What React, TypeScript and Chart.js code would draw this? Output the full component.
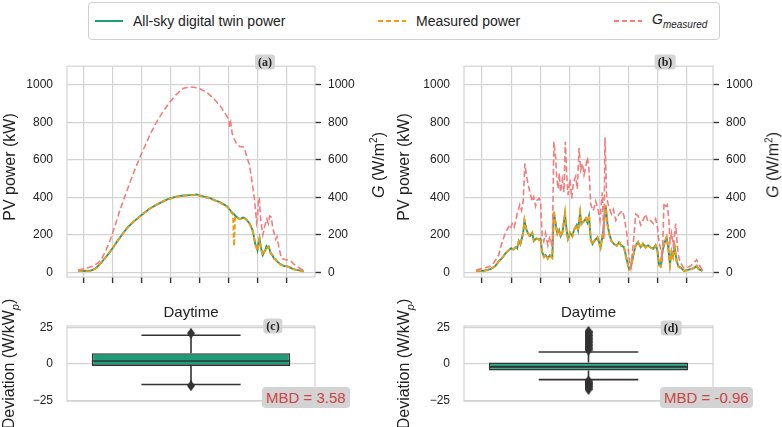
import React, { useEffect, useRef } from 'react';
import { Chart, registerables } from 'chart.js';
Chart.register(...registerables);

const FONT = '"Liberation Sans", Arial, Helvetica, sans-serif';
const GREEN = '#1b9e77';
const ORANGE = '#f39c12';
const PINK = '#f47c7c';
const GRID = '#d3d3d3';
const TEXT = '#222222';
const DARK = '#333333';

// ---------- shared ticks ----------
const hourTicks = [6, 8, 10, 12, 14, 16, 18, 20];
const powerTicks = [0, 200, 400, 600, 800, 1000];
const devTicks = [-25, 0, 25];
const boxCategories = ['Daytime'];

// ---------- panel (a) ----------
const hoursA = [5.6, 6.0, 6.4, 6.65, 6.87, 7.1, 7.45, 7.75, 8.02, 8.35, 8.71, 9.05, 9.4, 9.75, 10.09, 10.5, 11.0, 11.5, 11.93, 12.4, 12.85, 13.3, 13.66, 13.8, 14.0, 14.3, 14.69, 15.03, 15.38, 15.72, 15.9, 16.07, 16.2, 16.3, 16.38, 16.45, 16.55, 16.65, 16.76, 16.9, 17.0, 17.1, 17.25, 17.44, 17.55, 17.67, 17.78, 17.85, 17.93, 18.0, 18.08, 18.14, 18.2, 18.3, 18.37, 18.45, 18.55, 18.62, 18.7, 18.78, 18.83, 18.9, 19.0, 19.14, 19.25, 19.35, 19.52, 19.7, 19.86, 20.0, 20.2, 20.4, 20.55, 20.8, 21.0, 21.2];
const twinA = [8, 7, 8, 14, 25, 45, 75, 105, 134, 172, 210, 242, 268, 292, 313, 338, 360, 380, 394, 404, 410, 412, 414, 416, 410, 404, 397, 385, 375, 360, 352, 335, 322, 316, 310, 303, 296, 290, 285, 288, 292, 290, 280, 262, 245, 222, 180, 150, 135, 118, 160, 182, 150, 110, 92, 108, 120, 140, 132, 138, 125, 105, 95, 75, 70, 58, 48, 38, 33, 33, 28, 20, 16, 12, 9, 5];
const measuredA = [8, 6, 7, 13, 24, 44, 74, 106, 133, 170, 208, 243, 270, 290, 312, 337, 361, 381, 392, 403, 408, 411, 413, 412, 409, 402, 395, 384, 373, 358, 350, 333, 318, 312, 140, 298, 292, 288, 283, 287, 290, 288, 279, 260, 243, 220, 176, 148, 130, 115, 155, 178, 148, 108, 90, 105, 118, 136, 130, 135, 122, 103, 93, 73, 68, 56, 47, 37, 32, 32, 27, 19, 15, 11, 8, 5];
const hoursGA = [5.6, 6.1, 6.6, 7.0, 7.25, 7.5, 7.8, 8.0, 8.25, 8.5, 8.8, 9.2, 9.6, 10.1, 10.6, 11.0, 11.5, 11.9, 12.3, 12.6, 12.9, 13.3, 13.7, 14.0, 14.5, 15.0, 15.5, 15.9, 16.0, 16.07, 16.15, 16.25, 16.4, 16.6, 16.8, 17.0, 17.1, 17.25, 17.44, 17.55, 17.67, 17.79, 17.88, 17.94, 18.0, 18.08, 18.13, 18.2, 18.3, 18.37, 18.45, 18.55, 18.65, 18.75, 18.85, 18.95, 19.05, 19.15, 19.26, 19.35, 19.5, 19.64, 19.73, 19.9, 20.1, 20.31, 20.5, 20.77, 21.0, 21.24];
const gA = [12, 20, 33, 52, 78, 115, 170, 215, 275, 335, 400, 485, 565, 655, 740, 800, 862, 905, 942, 965, 982, 990, 986, 980, 960, 925, 880, 830, 820, 775, 800, 740, 710, 680, 670, 670, 660, 620, 575, 520, 460, 390, 320, 265, 290, 400, 395, 300, 240, 200, 225, 260, 285, 260, 300, 295, 240, 210, 176, 190, 126, 80, 72, 68, 66, 60, 45, 30, 18, 8];

// ---------- panel (b) ----------
const hoursB = [5.61, 6.1, 6.57, 6.91, 7.14, 7.37, 7.6, 7.83, 7.99, 8.13, 8.29, 8.4, 8.51, 8.62, 8.81, 8.9, 9.04, 9.13, 9.27, 9.43, 9.54, 9.72, 9.89, 10.0, 10.11, 10.23, 10.34, 10.5, 10.64, 10.8, 10.91, 11.03, 11.14, 11.26, 11.37, 11.5, 11.67, 11.78, 11.87, 12.01, 12.17, 12.29, 12.47, 12.56, 12.7, 12.79, 12.93, 13.09, 13.2, 13.31, 13.43, 13.55, 13.7, 13.89, 14.1, 14.3, 14.45, 14.57, 14.68, 14.84, 15.02, 15.2, 15.36, 15.52, 15.7, 15.89, 16.05, 16.16, 16.34, 16.5, 16.66, 16.84, 17.0, 17.18, 17.34, 17.52, 17.7, 17.86, 17.98, 18.09, 18.2, 18.32, 18.48, 18.61, 18.72, 18.84, 18.95, 19.05, 19.16, 19.3, 19.41, 19.57, 19.8, 20.02, 20.25, 20.48, 20.66, 20.82, 21.05];
const twinB = [8, 8, 17, 34, 59, 76, 101, 118, 129, 122, 134, 128, 168, 150, 210, 274, 227, 210, 193, 210, 168, 180, 176, 178, 109, 84, 92, 76, 90, 79, 320, 260, 210, 227, 193, 215, 310, 227, 180, 210, 193, 227, 252, 225, 315, 260, 269, 286, 265, 300, 176, 151, 170, 185, 134, 227, 355, 260, 210, 168, 151, 143, 160, 143, 134, 67, 17, 22, 92, 143, 160, 134, 151, 134, 143, 134, 126, 143, 118, 42, 34, 109, 160, 185, 134, 42, 109, 84, 134, 59, 34, 25, 8, 12, 17, 22, 34, 17, 8];
const measuredB = [8, 7, 16, 33, 57, 78, 99, 120, 127, 124, 132, 130, 165, 152, 205, 280, 225, 212, 190, 212, 165, 182, 172, 180, 105, 80, 95, 72, 93, 76, 330, 255, 205, 230, 190, 218, 320, 222, 178, 213, 190, 230, 255, 220, 322, 255, 272, 290, 262, 305, 170, 148, 173, 188, 130, 232, 360, 255, 207, 165, 153, 140, 163, 140, 132, 62, 14, 20, 95, 146, 163, 130, 154, 131, 146, 131, 123, 146, 115, 38, 30, 112, 165, 190, 130, 38, 112, 80, 138, 55, 30, 22, 7, 11, 16, 25, 36, 15, 6];
const hoursGB = [5.61, 6.11, 6.5, 6.8, 7.14, 7.37, 7.6, 7.83, 7.95, 8.06, 8.2, 8.4, 8.58, 8.7, 8.81, 8.93, 9.04, 9.13, 9.27, 9.43, 9.54, 9.66, 9.77, 9.89, 10.0, 10.11, 10.22, 10.34, 10.5, 10.64, 10.8, 10.91, 11.03, 11.1, 11.2, 11.28, 11.37, 11.49, 11.6, 11.69, 11.78, 11.87, 12.01, 12.13, 12.24, 12.4, 12.51, 12.63, 12.74, 12.86, 12.97, 13.09, 13.2, 13.31, 13.43, 13.6, 13.77, 13.95, 14.06, 14.22, 14.33, 14.4, 14.52, 14.63, 14.84, 14.98, 15.14, 15.36, 15.59, 15.7, 15.89, 16.05, 16.16, 16.34, 16.5, 16.66, 16.84, 17.0, 17.18, 17.34, 17.52, 17.7, 17.86, 17.98, 18.09, 18.2, 18.32, 18.43, 18.55, 18.66, 18.77, 18.84, 18.95, 19.07, 19.23, 19.34, 19.45, 19.57, 19.8, 20.02, 20.25, 20.48, 20.66, 20.82, 21.05];
const gB = [12, 22, 30, 50, 92, 160, 210, 244, 230, 260, 240, 311, 361, 330, 378, 580, 512, 479, 428, 378, 403, 353, 385, 395, 380, 193, 165, 210, 143, 193, 134, 697, 613, 512, 445, 529, 428, 496, 428, 697, 529, 412, 496, 395, 479, 512, 445, 664, 546, 580, 520, 563, 613, 546, 361, 328, 380, 327, 276, 427, 176, 720, 395, 361, 311, 336, 277, 311, 328, 300, 210, 76, 25, 160, 311, 302, 252, 277, 311, 269, 277, 260, 286, 244, 160, 126, 76, 370, 353, 361, 277, 160, 210, 143, 260, 143, 76, 50, 22, 25, 34, 50, 67, 42, 12];

// ---------- box plots (c) and (d) ----------
// [lower whisker, Q1, median, Q3, upper whisker]
const statsC = [-14.2, -1.4, 2.0, 7.3, 19.6];
const outliersC = [21.0, -15.0];
const statsD = [-10.8, -4.5, -2.1, 0.9, 8.1];
const outliersD = [9.5, 10.5, 11.5, 12.5, 13.5, 14.5, 15.5, 16.5, 17.5, 18.5, 19.5, 20.5, 21.5, 22.3, -11.8, -12.6, -13.4, -14.2, -15.0, -15.8, -16.6, -17.5];
const mbdC = 3.58;
const mbdD = -0.96;

const xy = (xs: number[], ys: number[]) => xs.map((x, i) => ({ x, y: ys[i] }));
const fixTicks = (values: number[]) => (s: any) => { s.ticks = values.map((v) => ({ value: v })); };
const plainFmt = (v: any) => String(v);
const minusFmt = (v: any) => (Number(v) < 0 ? '\u2212' + Math.abs(Number(v)) : String(v));

const framePlugin = {
  id: 'frame',
  beforeDatasetsDraw(chart: any) {
    const { ctx, chartArea: a } = chart;
    ctx.save();
    ctx.strokeStyle = GRID;
    ctx.lineWidth = 1.2;
    ctx.strokeRect(a.left, a.top, a.right - a.left, a.bottom - a.top);
    ctx.restore();
  },
};

function powerChart(canvas: HTMLCanvasElement, p: any) {
  return new Chart(canvas, {
    type: 'line',
    data: {
      datasets: [
        { label: 'G measured', data: xy(p.hoursG, p.g), yAxisID: 'y1', borderColor: PINK, borderWidth: 1.6, borderDash: [6, 3], pointRadius: 0, fill: false, tension: 0 },
        { label: 'Measured power', data: xy(p.hours, p.measured), yAxisID: 'y', borderColor: ORANGE, borderWidth: 1.9, borderDash: [5, 2.5], pointRadius: 0, fill: false, tension: 0 },
        { label: 'All-sky digital twin power', data: xy(p.hours, p.twin), yAxisID: 'y', borderColor: GREEN, borderWidth: 1.9, pointRadius: 0, fill: false, tension: 0 },
      ],
    },
    options: {
      responsive: false,
      animation: false,
      events: [],
      layout: { padding: { top: 8, left: 0, right: 0, bottom: 0 } },
      plugins: { legend: { display: false }, tooltip: { enabled: false } },
      scales: {
        x: {
          type: 'linear', min: p.xmin, max: p.xmax,
          afterBuildTicks: fixTicks(hourTicks),
          afterFit: (s: any) => { s.height = p.bottomH; },
          grid: { color: GRID, lineWidth: 1.2, drawTicks: true, tickLength: 6, tickColor: DARK, tickWidth: 1.4 },
          border: { display: false },
          ticks: { display: false },
        },
        y: {
          type: 'linear', position: 'left', min: -25, max: 1100,
          afterBuildTicks: fixTicks(powerTicks),
          afterFit: (s: any) => { s.width = p.leftW; },
          grid: { color: GRID, lineWidth: 1.2, drawTicks: false },
          border: { display: false },
          ticks: { padding: 14, color: TEXT, font: { size: 12, family: FONT }, callback: plainFmt },
        },
        y1: {
          type: 'linear', position: 'right', min: -25, max: 1100,
          afterBuildTicks: fixTicks(powerTicks),
          afterFit: (s: any) => { s.width = p.rightW; },
          grid: { drawOnChartArea: false, drawTicks: true, tickLength: 6, tickColor: DARK, tickWidth: 1.4 },
          border: { display: false },
          ticks: { padding: 7, color: TEXT, font: { size: 12, family: FONT }, callback: plainFmt },
        },
      },
    },
    plugins: [framePlugin],
  } as any);
}

function makeDiamond() {
  const c = document.createElement('canvas');
  c.width = 8; c.height = 11;
  const g = c.getContext('2d')!;
  g.fillStyle = DARK;
  g.beginPath();
  g.moveTo(4, 0); g.lineTo(8, 5.5); g.lineTo(4, 11); g.lineTo(0, 5.5); g.closePath();
  g.fill();
  return c;
}

function boxChart(canvas: HTMLCanvasElement, p: any, diamond: HTMLCanvasElement) {
  const [wLo, q1, med, q3, wHi] = p.stats;
  const boxPlugin = {
    id: 'boxstats',
    beforeDatasetsDraw(chart: any) {
      const bar = chart.getDatasetMeta(1).data[0];
      const ys = chart.scales.y;
      const cx = bar.x;
      const half = bar.width / 4;
      const ctx = chart.ctx;
      ctx.save();
      ctx.strokeStyle = DARK;
      ctx.lineWidth = 1.6;
      ctx.beginPath();
      ctx.moveTo(cx, ys.getPixelForValue(q3)); ctx.lineTo(cx, ys.getPixelForValue(wHi));
      ctx.moveTo(cx, ys.getPixelForValue(q1)); ctx.lineTo(cx, ys.getPixelForValue(wLo));
      ctx.moveTo(cx - half, ys.getPixelForValue(wHi)); ctx.lineTo(cx + half, ys.getPixelForValue(wHi));
      ctx.moveTo(cx - half, ys.getPixelForValue(wLo)); ctx.lineTo(cx + half, ys.getPixelForValue(wLo));
      ctx.stroke();
      ctx.restore();
    },
    afterDatasetsDraw(chart: any) {
      const bar = chart.getDatasetMeta(1).data[0];
      const ys = chart.scales.y;
      const ctx = chart.ctx;
      const y = ys.getPixelForValue(med);
      ctx.save();
      ctx.strokeStyle = DARK;
      ctx.lineWidth = 1.6;
      ctx.beginPath();
      ctx.moveTo(bar.x - bar.width / 2, y); ctx.lineTo(bar.x + bar.width / 2, y);
      ctx.stroke();
      ctx.restore();
    },
  };
  return new Chart(canvas, {
    type: 'bar',
    data: {
      labels: boxCategories,
      datasets: [
        { type: 'line', data: p.outliers.map((v: number) => ({ x: boxCategories[0], y: v })), showLine: false, pointStyle: diamond, pointRadius: 5, borderColor: DARK, backgroundColor: DARK },
        { type: 'bar', data: [[q1, q3]], backgroundColor: GREEN, borderColor: DARK, borderWidth: 1.6, borderSkipped: false, barPercentage: 0.8, categoryPercentage: 1.0 },
      ],
    },
    options: {
      responsive: false,
      animation: false,
      events: [],
      layout: { padding: { top: 8, left: 0, right: p.rightPad, bottom: 26 } },
      plugins: {
        legend: { display: false },
        tooltip: { enabled: false },
        title: { display: true, fullSize: false, text: boxCategories[0], color: TEXT, font: { size: 15, family: FONT, weight: 'normal' }, padding: { top: 0, bottom: 4 } },
      },
      scales: {
        x: { type: 'category', display: false },
        y: {
          type: 'linear', min: -25.5, max: 26,
          afterBuildTicks: fixTicks(devTicks),
          afterFit: (s: any) => { s.width = p.leftW; },
          grid: { color: GRID, lineWidth: 1.2, drawTicks: false },
          border: { display: false },
          ticks: { padding: 14, color: TEXT, font: { size: 12, family: FONT }, callback: minusFmt },
        },
      },
    },
    plugins: [framePlugin, boxPlugin],
  } as any);
}

const abs = (l: number, t: number): React.CSSProperties => ({ position: 'absolute', left: l, top: t });

function RotTitle({ x, y, size, children }: any) {
  return (
    <div style={{ position: 'absolute', left: x, top: y, transform: 'translate(-50%,-50%) rotate(-90deg)', whiteSpace: 'nowrap', fontSize: size, fontFamily: FONT, color: TEXT, lineHeight: 1 }}>
      {children}
    </div>
  );
}

function PanelTag({ x, y, text }: any) {
  return (
    <div style={{ position: 'absolute', left: x, top: y, transform: 'translate(-50%,-50%)', background: '#d4d4d4', borderRadius: 3, padding: '1px 3px', fontFamily: '"Liberation Serif", "Times New Roman", serif', fontWeight: 'bold', fontSize: 12, color: '#222', lineHeight: '13px' }}>
      {text}
    </div>
  );
}

function MbdTag({ x, y, value }: any) {
  return (
    <div style={{ position: 'absolute', left: x, top: y, background: '#d3d3d3', borderRadius: 4, padding: '1px 4px', fontFamily: FONT, fontSize: 15, color: '#cc4444', lineHeight: '19px', whiteSpace: 'nowrap' }}>
      {'MBD = ' + value.toFixed(2)}
    </div>
  );
}

export default function App() {
  const refA = useRef<HTMLCanvasElement>(null);
  const refB = useRef<HTMLCanvasElement>(null);
  const refC = useRef<HTMLCanvasElement>(null);
  const refD = useRef<HTMLCanvasElement>(null);

  useEffect(() => {
    const diamond = makeDiamond();
    const charts = [
      powerChart(refA.current!, { hours: hoursA, twin: twinA, measured: measuredA, hoursG: hoursGA, g: gA, xmin: 4.82, xmax: 21.98, leftW: 67, rightW: 75, bottomH: 23 }),
      powerChart(refB.current!, { hours: hoursB, twin: twinB, measured: measuredB, hoursG: hoursGB, g: gB, xmin: 4.77, xmax: 21.78, leftW: 74, rightW: 69, bottomH: 23 }),
      boxChart(refC.current!, { stats: statsC, outliers: outliersC, leftW: 67, rightPad: 75 }, diamond),
      boxChart(refD.current!, { stats: statsD, outliers: outliersD, leftW: 74, rightPad: 69 }, diamond),
    ];
    return () => charts.forEach((c) => c.destroy());
  }, []);

  const legendText: React.CSSProperties = { position: 'absolute', top: 21, transform: 'translateY(-50%)', fontFamily: FONT, fontSize: 14, color: TEXT, whiteSpace: 'nowrap', lineHeight: 1 };

  return (
    <div style={{ position: 'absolute', left: 0, top: 0, width: 782, height: 427, background: '#fff', overflow: 'hidden' }}>
      <canvas ref={refA} width={390} height={255} style={abs(0, 45)} />
      <canvas ref={refB} width={392} height={255} style={abs(390, 45)} />
      <canvas ref={refC} width={390} height={131} style={abs(0, 296)} />
      <canvas ref={refD} width={392} height={131} style={abs(390, 296)} />

      {/* legend */}
      <div style={{ position: 'absolute', left: 88, top: 2, width: 632, height: 38, border: '1px solid #cfcfcf', borderRadius: 4, boxSizing: 'border-box' }} />
      <svg style={abs(95, 16)} width={28} height={10}><line x1={0} y1={5} x2={28} y2={5} stroke={GREEN} strokeWidth={2} /></svg>
      <div style={{ ...legendText, left: 133 }}>All-sky digital twin power</div>
      <svg style={abs(378, 16)} width={28} height={10}><line x1={0} y1={5} x2={28} y2={5} stroke={ORANGE} strokeWidth={2} strokeDasharray="5,3" /></svg>
      <div style={{ ...legendText, left: 416 }}>Measured power</div>
      <svg style={abs(614, 16)} width={28} height={10}><line x1={0} y1={5} x2={28} y2={5} stroke={PINK} strokeWidth={2} strokeDasharray="5,3" /></svg>
      <div style={{ ...legendText, left: 652 }}><i>G</i><sub style={{ fontSize: 10, fontStyle: 'italic' }}>measured</sub></div>

      {/* axis titles */}
      <RotTitle x={10} y={167} size={16}>PV power (kW)</RotTitle>
      <RotTitle x={378} y={165} size={16}><i>G</i> (W/m<sup style={{ fontSize: 10 }}>2</sup>)</RotTitle>
      <RotTitle x={404} y={167} size={16}>PV power (kW)</RotTitle>
      <RotTitle x={773} y={165} size={16}><i>G</i> (W/m<sup style={{ fontSize: 10 }}>2</sup>)</RotTitle>
      <RotTitle x={11} y={364} size={16}>Deviation (W/kW<sub style={{ fontSize: 11 }}><i>p</i></sub>)</RotTitle>
      <RotTitle x={406} y={364} size={16}>Deviation (W/kW<sub style={{ fontSize: 11 }}><i>p</i></sub>)</RotTitle>

      {/* panel tags */}
      <PanelTag x={265} y={62} text="(a)" />
      <PanelTag x={665} y={62} text="(b)" />
      <PanelTag x={273} y={326} text="(c)" />
      <PanelTag x={671} y={328} text="(d)" />

      <MbdTag x={262} y={387} value={mbdC} />
      <MbdTag x={660} y={387} value={mbdD} />
    </div>
  );
}
